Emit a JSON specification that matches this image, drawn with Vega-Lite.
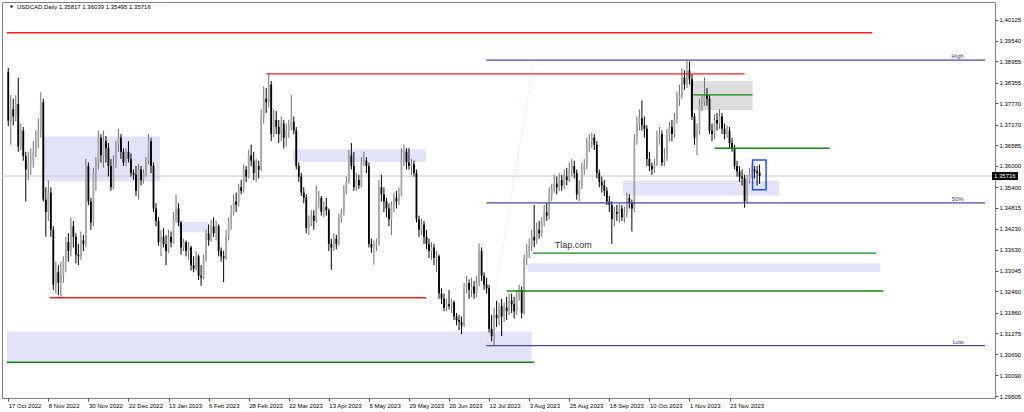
{
"$schema": "https://vega.github.io/schema/vega-lite/v6.json",
"width": 993, "height": 396,
"autosize": {"type": "none"},
"padding": {"left": 2, "top": 2, "right": 29, "bottom": 14},
"background": "white",
"config": {"view": {"stroke": "#808080", "strokeWidth": 1}, "font": "Liberation Sans",
 "axis": {"grid": false, "domain": false, "labelFontSize": 6, "labelColor": "#000", "tickColor": "#555", "tickSize": 3, "labelPadding": 1, "labelOverlap": false, "labelFlush": false}},
"datasets": {
"candles": [
{"i":0,"open":1.3866,"high":1.3877,"low":1.3712,"close":1.3728},
{"i":1,"open":1.3728,"high":1.3800,"low":1.3660,"close":1.3760},
{"i":2,"open":1.3760,"high":1.3790,"low":1.3715,"close":1.3740},
{"i":3,"open":1.3740,"high":1.3800,"low":1.3725,"close":1.3775},
{"i":4,"open":1.3775,"high":1.3849,"low":1.3640,"close":1.3655},
{"i":5,"open":1.3655,"high":1.3720,"low":1.3645,"close":1.3700},
{"i":6,"open":1.3700,"high":1.3710,"low":1.3615,"close":1.3628},
{"i":7,"open":1.3628,"high":1.3640,"low":1.3500,"close":1.3590},
{"i":8,"open":1.3590,"high":1.3640,"low":1.3560,"close":1.3610},
{"i":9,"open":1.3610,"high":1.3650,"low":1.3575,"close":1.3615},
{"i":10,"open":1.3615,"high":1.3670,"low":1.3595,"close":1.3640},
{"i":11,"open":1.3640,"high":1.3700,"low":1.3625,"close":1.3665},
{"i":12,"open":1.3665,"high":1.3735,"low":1.3650,"close":1.3700},
{"i":13,"open":1.3700,"high":1.3808,"low":1.3680,"close":1.3780},
{"i":14,"open":1.3780,"high":1.3790,"low":1.3500,"close":1.3505},
{"i":15,"open":1.3505,"high":1.3540,"low":1.3400,"close":1.3470},
{"i":16,"open":1.3470,"high":1.3560,"low":1.3445,"close":1.3525},
{"i":17,"open":1.3525,"high":1.3540,"low":1.3400,"close":1.3420},
{"i":18,"open":1.3420,"high":1.3430,"low":1.3250,"close":1.3265},
{"i":19,"open":1.3265,"high":1.3330,"low":1.3240,"close":1.3300},
{"i":20,"open":1.3300,"high":1.3320,"low":1.3235,"close":1.3270},
{"i":21,"open":1.3270,"high":1.3330,"low":1.3226,"close":1.3290},
{"i":22,"open":1.3290,"high":1.3345,"low":1.3270,"close":1.3330},
{"i":23,"open":1.3330,"high":1.3400,"low":1.3300,"close":1.3385},
{"i":24,"open":1.3385,"high":1.3410,"low":1.3330,"close":1.3360},
{"i":25,"open":1.3360,"high":1.3455,"low":1.3345,"close":1.3430},
{"i":26,"open":1.3430,"high":1.3445,"low":1.3370,"close":1.3400},
{"i":27,"open":1.3400,"high":1.3410,"low":1.3325,"close":1.3350},
{"i":28,"open":1.3350,"high":1.3380,"low":1.3320,"close":1.3345},
{"i":29,"open":1.3345,"high":1.3415,"low":1.3335,"close":1.3390},
{"i":30,"open":1.3390,"high":1.3405,"low":1.3360,"close":1.3380},
{"i":31,"open":1.3380,"high":1.3620,"low":1.3370,"close":1.3600},
{"i":32,"open":1.3600,"high":1.3610,"low":1.3490,"close":1.3500},
{"i":33,"open":1.3500,"high":1.3510,"low":1.3420,"close":1.3440},
{"i":34,"open":1.3440,"high":1.3595,"low":1.3430,"close":1.3580},
{"i":35,"open":1.3580,"high":1.3625,"low":1.3530,"close":1.3610},
{"i":36,"open":1.3610,"high":1.3700,"low":1.3590,"close":1.3680},
{"i":37,"open":1.3680,"high":1.3690,"low":1.3610,"close":1.3630},
{"i":38,"open":1.3630,"high":1.3700,"low":1.3595,"close":1.3670},
{"i":39,"open":1.3670,"high":1.3685,"low":1.3610,"close":1.3650},
{"i":40,"open":1.3650,"high":1.3665,"low":1.3570,"close":1.3600},
{"i":41,"open":1.3600,"high":1.3620,"low":1.3530,"close":1.3540},
{"i":42,"open":1.3540,"high":1.3630,"low":1.3535,"close":1.3600},
{"i":43,"open":1.3600,"high":1.3670,"low":1.3595,"close":1.3660},
{"i":44,"open":1.3660,"high":1.3705,"low":1.3640,"close":1.3680},
{"i":45,"open":1.3680,"high":1.3690,"low":1.3620,"close":1.3640},
{"i":46,"open":1.3640,"high":1.3650,"low":1.3600,"close":1.3610},
{"i":47,"open":1.3610,"high":1.3650,"low":1.3600,"close":1.3640},
{"i":48,"open":1.3640,"high":1.3670,"low":1.3610,"close":1.3620},
{"i":49,"open":1.3620,"high":1.3635,"low":1.3570,"close":1.3580},
{"i":50,"open":1.3580,"high":1.3590,"low":1.3560,"close":1.3575},
{"i":51,"open":1.3575,"high":1.3600,"low":1.3515,"close":1.3530},
{"i":52,"open":1.3530,"high":1.3605,"low":1.3505,"close":1.3590},
{"i":53,"open":1.3590,"high":1.3600,"low":1.3545,"close":1.3560},
{"i":54,"open":1.3560,"high":1.3590,"low":1.3550,"close":1.3580},
{"i":55,"open":1.3580,"high":1.3625,"low":1.3570,"close":1.3615},
{"i":56,"open":1.3615,"high":1.3690,"low":1.3605,"close":1.3670},
{"i":57,"open":1.3670,"high":1.3680,"low":1.3580,"close":1.3600},
{"i":58,"open":1.3600,"high":1.3610,"low":1.3470,"close":1.3480},
{"i":59,"open":1.3480,"high":1.3495,"low":1.3430,"close":1.3445},
{"i":60,"open":1.3445,"high":1.3455,"low":1.3375,"close":1.3385},
{"i":61,"open":1.3385,"high":1.3420,"low":1.3345,"close":1.3400},
{"i":62,"open":1.3400,"high":1.3425,"low":1.3370,"close":1.3380},
{"i":63,"open":1.3380,"high":1.3405,"low":1.3320,"close":1.3360},
{"i":64,"open":1.3360,"high":1.3420,"low":1.3355,"close":1.3400},
{"i":65,"open":1.3400,"high":1.3415,"low":1.3370,"close":1.3385},
{"i":66,"open":1.3385,"high":1.3470,"low":1.3380,"close":1.3450},
{"i":67,"open":1.3450,"high":1.3520,"low":1.3440,"close":1.3480},
{"i":68,"open":1.3480,"high":1.3495,"low":1.3430,"close":1.3440},
{"i":69,"open":1.3440,"high":1.3445,"low":1.3350,"close":1.3370},
{"i":70,"open":1.3370,"high":1.3395,"low":1.3360,"close":1.3385},
{"i":71,"open":1.3385,"high":1.3390,"low":1.3345,"close":1.3360},
{"i":72,"open":1.3360,"high":1.3385,"low":1.3335,"close":1.3370},
{"i":73,"open":1.3370,"high":1.3375,"low":1.3305,"close":1.3320},
{"i":74,"open":1.3320,"high":1.3345,"low":1.3300,"close":1.3310},
{"i":75,"open":1.3310,"high":1.3360,"low":1.3305,"close":1.3345},
{"i":76,"open":1.3345,"high":1.3350,"low":1.3278,"close":1.3290},
{"i":77,"open":1.3290,"high":1.3320,"low":1.3262,"close":1.3285},
{"i":78,"open":1.3285,"high":1.3350,"low":1.3280,"close":1.3340},
{"i":79,"open":1.3340,"high":1.3420,"low":1.3330,"close":1.3410},
{"i":80,"open":1.3410,"high":1.3435,"low":1.3375,"close":1.3390},
{"i":81,"open":1.3390,"high":1.3448,"low":1.3385,"close":1.3430},
{"i":82,"open":1.3430,"high":1.3455,"low":1.3400,"close":1.3410},
{"i":83,"open":1.3410,"high":1.3445,"low":1.3390,"close":1.3430},
{"i":84,"open":1.3430,"high":1.3435,"low":1.3345,"close":1.3360},
{"i":85,"open":1.3360,"high":1.3370,"low":1.3330,"close":1.3345},
{"i":86,"open":1.3345,"high":1.3360,"low":1.3272,"close":1.3340},
{"i":87,"open":1.3340,"high":1.3420,"low":1.3335,"close":1.3400},
{"i":88,"open":1.3400,"high":1.3455,"low":1.3390,"close":1.3440},
{"i":89,"open":1.3440,"high":1.3490,"low":1.3420,"close":1.3470},
{"i":90,"open":1.3470,"high":1.3520,"low":1.3460,"close":1.3500},
{"i":91,"open":1.3500,"high":1.3525,"low":1.3470,"close":1.3490},
{"i":92,"open":1.3490,"high":1.3550,"low":1.3485,"close":1.3540},
{"i":93,"open":1.3540,"high":1.3560,"low":1.3520,"close":1.3530},
{"i":94,"open":1.3530,"high":1.3605,"low":1.3525,"close":1.3590},
{"i":95,"open":1.3590,"high":1.3600,"low":1.3555,"close":1.3570},
{"i":96,"open":1.3570,"high":1.3645,"low":1.3565,"close":1.3630},
{"i":97,"open":1.3630,"high":1.3660,"low":1.3600,"close":1.3615},
{"i":98,"open":1.3615,"high":1.3640,"low":1.3560,"close":1.3580},
{"i":99,"open":1.3580,"high":1.3620,"low":1.3555,"close":1.3600},
{"i":100,"open":1.3600,"high":1.3615,"low":1.3565,"close":1.3590},
{"i":101,"open":1.3590,"high":1.3760,"low":1.3585,"close":1.3740},
{"i":102,"open":1.3740,"high":1.3825,"low":1.3720,"close":1.3790},
{"i":103,"open":1.3790,"high":1.3820,"low":1.3750,"close":1.3780},
{"i":104,"open":1.3780,"high":1.3862,"low":1.3765,"close":1.3830},
{"i":105,"open":1.3830,"high":1.3840,"low":1.3670,"close":1.3690},
{"i":106,"open":1.3690,"high":1.3760,"low":1.3680,"close":1.3730},
{"i":107,"open":1.3730,"high":1.3755,"low":1.3690,"close":1.3710},
{"i":108,"open":1.3710,"high":1.3730,"low":1.3665,"close":1.3690},
{"i":109,"open":1.3690,"high":1.3740,"low":1.3670,"close":1.3720},
{"i":110,"open":1.3720,"high":1.3730,"low":1.3650,"close":1.3680},
{"i":111,"open":1.3680,"high":1.3720,"low":1.3655,"close":1.3700},
{"i":112,"open":1.3700,"high":1.3730,"low":1.3680,"close":1.3715},
{"i":113,"open":1.3715,"high":1.3800,"low":1.3700,"close":1.3725},
{"i":114,"open":1.3725,"high":1.3740,"low":1.3690,"close":1.3700},
{"i":115,"open":1.3700,"high":1.3710,"low":1.3590,"close":1.3600},
{"i":116,"open":1.3600,"high":1.3610,"low":1.3555,"close":1.3570},
{"i":117,"open":1.3570,"high":1.3580,"low":1.3515,"close":1.3525},
{"i":118,"open":1.3525,"high":1.3540,"low":1.3495,"close":1.3510},
{"i":119,"open":1.3510,"high":1.3520,"low":1.3410,"close":1.3425},
{"i":120,"open":1.3425,"high":1.3460,"low":1.3405,"close":1.3440},
{"i":121,"open":1.3440,"high":1.3475,"low":1.3430,"close":1.3460},
{"i":122,"open":1.3460,"high":1.3475,"low":1.3420,"close":1.3445},
{"i":123,"open":1.3445,"high":1.3545,"low":1.3440,"close":1.3500},
{"i":124,"open":1.3500,"high":1.3530,"low":1.3480,"close":1.3510},
{"i":125,"open":1.3510,"high":1.3515,"low":1.3460,"close":1.3470},
{"i":126,"open":1.3470,"high":1.3500,"low":1.3455,"close":1.3485},
{"i":127,"open":1.3485,"high":1.3510,"low":1.3460,"close":1.3475},
{"i":128,"open":1.3475,"high":1.3480,"low":1.3360,"close":1.3380},
{"i":129,"open":1.3380,"high":1.3395,"low":1.3307,"close":1.3370},
{"i":130,"open":1.3370,"high":1.3410,"low":1.3360,"close":1.3395},
{"i":131,"open":1.3395,"high":1.3405,"low":1.3365,"close":1.3380},
{"i":132,"open":1.3380,"high":1.3465,"low":1.3375,"close":1.3450},
{"i":133,"open":1.3450,"high":1.3480,"low":1.3440,"close":1.3470},
{"i":134,"open":1.3470,"high":1.3545,"low":1.3460,"close":1.3530},
{"i":135,"open":1.3530,"high":1.3570,"low":1.3520,"close":1.3555},
{"i":136,"open":1.3555,"high":1.3645,"low":1.3550,"close":1.3630},
{"i":137,"open":1.3630,"high":1.3665,"low":1.3590,"close":1.3600},
{"i":138,"open":1.3600,"high":1.3640,"low":1.3530,"close":1.3540},
{"i":139,"open":1.3540,"high":1.3580,"low":1.3530,"close":1.3560},
{"i":140,"open":1.3560,"high":1.3575,"low":1.3535,"close":1.3545},
{"i":141,"open":1.3545,"high":1.3625,"low":1.3540,"close":1.3610},
{"i":142,"open":1.3610,"high":1.3640,"low":1.3600,"close":1.3615},
{"i":143,"open":1.3615,"high":1.3625,"low":1.3580,"close":1.3600},
{"i":144,"open":1.3600,"high":1.3610,"low":1.3370,"close":1.3380},
{"i":145,"open":1.3380,"high":1.3395,"low":1.3355,"close":1.3370},
{"i":146,"open":1.3370,"high":1.3390,"low":1.3321,"close":1.3375},
{"i":147,"open":1.3375,"high":1.3395,"low":1.3360,"close":1.3380},
{"i":148,"open":1.3380,"high":1.3560,"low":1.3375,"close":1.3540},
{"i":149,"open":1.3540,"high":1.3575,"low":1.3500,"close":1.3520},
{"i":150,"open":1.3520,"high":1.3540,"low":1.3470,"close":1.3500},
{"i":151,"open":1.3500,"high":1.3510,"low":1.3455,"close":1.3480},
{"i":152,"open":1.3480,"high":1.3495,"low":1.3430,"close":1.3450},
{"i":153,"open":1.3450,"high":1.3500,"low":1.3405,"close":1.3490},
{"i":154,"open":1.3490,"high":1.3525,"low":1.3470,"close":1.3510},
{"i":155,"open":1.3510,"high":1.3530,"low":1.3480,"close":1.3500},
{"i":156,"open":1.3500,"high":1.3540,"low":1.3490,"close":1.3520},
{"i":157,"open":1.3520,"high":1.3650,"low":1.3515,"close":1.3620},
{"i":158,"open":1.3620,"high":1.3660,"low":1.3600,"close":1.3640},
{"i":159,"open":1.3640,"high":1.3650,"low":1.3590,"close":1.3610},
{"i":160,"open":1.3610,"high":1.3650,"low":1.3590,"close":1.3600},
{"i":161,"open":1.3600,"high":1.3620,"low":1.3575,"close":1.3605},
{"i":162,"open":1.3605,"high":1.3615,"low":1.3570,"close":1.3580},
{"i":163,"open":1.3580,"high":1.3590,"low":1.3440,"close":1.3450},
{"i":164,"open":1.3450,"high":1.3460,"low":1.3400,"close":1.3420},
{"i":165,"open":1.3420,"high":1.3450,"low":1.3405,"close":1.3435},
{"i":166,"open":1.3435,"high":1.3445,"low":1.3380,"close":1.3400},
{"i":167,"open":1.3400,"high":1.3420,"low":1.3365,"close":1.3380},
{"i":168,"open":1.3380,"high":1.3395,"low":1.3340,"close":1.3360},
{"i":169,"open":1.3360,"high":1.3385,"low":1.3335,"close":1.3370},
{"i":170,"open":1.3370,"high":1.3380,"low":1.3320,"close":1.3340},
{"i":171,"open":1.3340,"high":1.3360,"low":1.3300,"close":1.3345},
{"i":172,"open":1.3345,"high":1.3350,"low":1.3225,"close":1.3240},
{"i":173,"open":1.3240,"high":1.3255,"low":1.3210,"close":1.3225},
{"i":174,"open":1.3225,"high":1.3240,"low":1.3190,"close":1.3200},
{"i":175,"open":1.3200,"high":1.3225,"low":1.3190,"close":1.3210},
{"i":176,"open":1.3210,"high":1.3250,"low":1.3195,"close":1.3205},
{"i":177,"open":1.3205,"high":1.3225,"low":1.3185,"close":1.3215},
{"i":178,"open":1.3215,"high":1.3220,"low":1.3165,"close":1.3175},
{"i":179,"open":1.3175,"high":1.3185,"low":1.3150,"close":1.3165},
{"i":180,"open":1.3165,"high":1.3180,"low":1.3137,"close":1.3160},
{"i":181,"open":1.3160,"high":1.3175,"low":1.3125,"close":1.3150},
{"i":182,"open":1.3150,"high":1.3270,"low":1.3145,"close":1.3255},
{"i":183,"open":1.3255,"high":1.3290,"low":1.3240,"close":1.3270},
{"i":184,"open":1.3270,"high":1.3280,"low":1.3225,"close":1.3250},
{"i":185,"open":1.3250,"high":1.3285,"low":1.3230,"close":1.3260},
{"i":186,"open":1.3260,"high":1.3275,"low":1.3225,"close":1.3240},
{"i":187,"open":1.3240,"high":1.3290,"low":1.3230,"close":1.3270},
{"i":188,"open":1.3270,"high":1.3382,"low":1.3260,"close":1.3360},
{"i":189,"open":1.3360,"high":1.3370,"low":1.3275,"close":1.3290},
{"i":190,"open":1.3290,"high":1.3300,"low":1.3250,"close":1.3265},
{"i":191,"open":1.3265,"high":1.3285,"low":1.3240,"close":1.3255},
{"i":192,"open":1.3255,"high":1.3265,"low":1.3130,"close":1.3140},
{"i":193,"open":1.3140,"high":1.3180,"low":1.3105,"close":1.3120},
{"i":194,"open":1.3120,"high":1.3200,"low":1.3093,"close":1.3180},
{"i":195,"open":1.3180,"high":1.3220,"low":1.3145,"close":1.3170},
{"i":196,"open":1.3170,"high":1.3215,"low":1.3150,"close":1.3205},
{"i":197,"open":1.3205,"high":1.3225,"low":1.3120,"close":1.3175},
{"i":198,"open":1.3175,"high":1.3215,"low":1.3160,"close":1.3200},
{"i":199,"open":1.3200,"high":1.3230,"low":1.3165,"close":1.3190},
{"i":200,"open":1.3190,"high":1.3240,"low":1.3180,"close":1.3220},
{"i":201,"open":1.3220,"high":1.3240,"low":1.3185,"close":1.3210},
{"i":202,"open":1.3210,"high":1.3230,"low":1.3170,"close":1.3190},
{"i":203,"open":1.3190,"high":1.3250,"low":1.3180,"close":1.3230},
{"i":204,"open":1.3230,"high":1.3265,"low":1.3220,"close":1.3250},
{"i":205,"open":1.3250,"high":1.3260,"low":1.3170,"close":1.3185},
{"i":206,"open":1.3185,"high":1.3350,"low":1.3180,"close":1.3340},
{"i":207,"open":1.3340,"high":1.3380,"low":1.3320,"close":1.3360},
{"i":208,"open":1.3360,"high":1.3395,"low":1.3340,"close":1.3375},
{"i":209,"open":1.3375,"high":1.3420,"low":1.3360,"close":1.3400},
{"i":210,"open":1.3400,"high":1.3490,"low":1.3370,"close":1.3390},
{"i":211,"open":1.3390,"high":1.3440,"low":1.3380,"close":1.3420},
{"i":212,"open":1.3420,"high":1.3445,"low":1.3395,"close":1.3410},
{"i":213,"open":1.3410,"high":1.3455,"low":1.3400,"close":1.3440},
{"i":214,"open":1.3440,"high":1.3490,"low":1.3430,"close":1.3470},
{"i":215,"open":1.3470,"high":1.3495,"low":1.3445,"close":1.3460},
{"i":216,"open":1.3460,"high":1.3540,"low":1.3450,"close":1.3520},
{"i":217,"open":1.3520,"high":1.3550,"low":1.3500,"close":1.3535},
{"i":218,"open":1.3535,"high":1.3575,"low":1.3525,"close":1.3550},
{"i":219,"open":1.3550,"high":1.3570,"low":1.3520,"close":1.3540},
{"i":220,"open":1.3540,"high":1.3580,"low":1.3530,"close":1.3560},
{"i":221,"open":1.3560,"high":1.3575,"low":1.3530,"close":1.3545},
{"i":222,"open":1.3545,"high":1.3590,"low":1.3535,"close":1.3570},
{"i":223,"open":1.3570,"high":1.3595,"low":1.3545,"close":1.3560},
{"i":224,"open":1.3560,"high":1.3610,"low":1.3555,"close":1.3590},
{"i":225,"open":1.3590,"high":1.3620,"low":1.3570,"close":1.3600},
{"i":226,"open":1.3600,"high":1.3615,"low":1.3565,"close":1.3580},
{"i":227,"open":1.3580,"high":1.3590,"low":1.3505,"close":1.3520},
{"i":228,"open":1.3520,"high":1.3560,"low":1.3500,"close":1.3540},
{"i":229,"open":1.3540,"high":1.3610,"low":1.3535,"close":1.3590},
{"i":230,"open":1.3590,"high":1.3620,"low":1.3575,"close":1.3600},
{"i":231,"open":1.3600,"high":1.3680,"low":1.3590,"close":1.3660},
{"i":232,"open":1.3660,"high":1.3690,"low":1.3640,"close":1.3670},
{"i":233,"open":1.3670,"high":1.3695,"low":1.3650,"close":1.3680},
{"i":234,"open":1.3680,"high":1.3690,"low":1.3645,"close":1.3660},
{"i":235,"open":1.3660,"high":1.3670,"low":1.3565,"close":1.3580},
{"i":236,"open":1.3580,"high":1.3590,"low":1.3540,"close":1.3555},
{"i":237,"open":1.3555,"high":1.3570,"low":1.3525,"close":1.3545},
{"i":238,"open":1.3545,"high":1.3560,"low":1.3515,"close":1.3530},
{"i":239,"open":1.3530,"high":1.3540,"low":1.3490,"close":1.3500},
{"i":240,"open":1.3500,"high":1.3515,"low":1.3470,"close":1.3490},
{"i":241,"open":1.3490,"high":1.3500,"low":1.3380,"close":1.3450},
{"i":242,"open":1.3450,"high":1.3485,"low":1.3430,"close":1.3470},
{"i":243,"open":1.3470,"high":1.3490,"low":1.3445,"close":1.3465},
{"i":244,"open":1.3465,"high":1.3495,"low":1.3440,"close":1.3480},
{"i":245,"open":1.3480,"high":1.3490,"low":1.3445,"close":1.3455},
{"i":246,"open":1.3455,"high":1.3485,"low":1.3440,"close":1.3465},
{"i":247,"open":1.3465,"high":1.3525,"low":1.3455,"close":1.3510},
{"i":248,"open":1.3510,"high":1.3520,"low":1.3480,"close":1.3495},
{"i":249,"open":1.3495,"high":1.3505,"low":1.3415,"close":1.3480},
{"i":250,"open":1.3480,"high":1.3690,"low":1.3470,"close":1.3670},
{"i":251,"open":1.3670,"high":1.3740,"low":1.3660,"close":1.3720},
{"i":252,"open":1.3720,"high":1.3760,"low":1.3700,"close":1.3735},
{"i":253,"open":1.3735,"high":1.3785,"low":1.3700,"close":1.3715},
{"i":254,"open":1.3715,"high":1.3740,"low":1.3680,"close":1.3705},
{"i":255,"open":1.3705,"high":1.3715,"low":1.3600,"close":1.3620},
{"i":256,"open":1.3620,"high":1.3640,"low":1.3585,"close":1.3600},
{"i":257,"open":1.3600,"high":1.3610,"low":1.3575,"close":1.3590},
{"i":258,"open":1.3590,"high":1.3620,"low":1.3580,"close":1.3605},
{"i":259,"open":1.3605,"high":1.3700,"low":1.3600,"close":1.3680},
{"i":260,"open":1.3680,"high":1.3710,"low":1.3660,"close":1.3690},
{"i":261,"open":1.3690,"high":1.3700,"low":1.3600,"close":1.3610},
{"i":262,"open":1.3610,"high":1.3650,"low":1.3600,"close":1.3620},
{"i":263,"open":1.3620,"high":1.3705,"low":1.3615,"close":1.3690},
{"i":264,"open":1.3690,"high":1.3725,"low":1.3670,"close":1.3710},
{"i":265,"open":1.3710,"high":1.3730,"low":1.3670,"close":1.3690},
{"i":266,"open":1.3690,"high":1.3750,"low":1.3680,"close":1.3730},
{"i":267,"open":1.3730,"high":1.3810,"low":1.3720,"close":1.3790},
{"i":268,"open":1.3790,"high":1.3830,"low":1.3770,"close":1.3800},
{"i":269,"open":1.3800,"high":1.3875,"low":1.3790,"close":1.3850},
{"i":270,"open":1.3850,"high":1.3870,"low":1.3815,"close":1.3830},
{"i":271,"open":1.3830,"high":1.3899,"low":1.3820,"close":1.3870},
{"i":272,"open":1.3870,"high":1.3895,"low":1.3830,"close":1.3845},
{"i":273,"open":1.3845,"high":1.3860,"low":1.3730,"close":1.3740},
{"i":274,"open":1.3740,"high":1.3750,"low":1.3660,"close":1.3680},
{"i":275,"open":1.3680,"high":1.3720,"low":1.3631,"close":1.3700},
{"i":276,"open":1.3700,"high":1.3790,"low":1.3690,"close":1.3770},
{"i":277,"open":1.3770,"high":1.3800,"low":1.3755,"close":1.3780},
{"i":278,"open":1.3780,"high":1.3850,"low":1.3770,"close":1.3800},
{"i":279,"open":1.3800,"high":1.3820,"low":1.3770,"close":1.3790},
{"i":280,"open":1.3790,"high":1.3800,"low":1.3690,"close":1.3700},
{"i":281,"open":1.3700,"high":1.3720,"low":1.3670,"close":1.3690},
{"i":282,"open":1.3690,"high":1.3745,"low":1.3675,"close":1.3730},
{"i":283,"open":1.3730,"high":1.3750,"low":1.3700,"close":1.3720},
{"i":284,"open":1.3720,"high":1.3760,"low":1.3705,"close":1.3740},
{"i":285,"open":1.3740,"high":1.3750,"low":1.3690,"close":1.3705},
{"i":286,"open":1.3705,"high":1.3720,"low":1.3675,"close":1.3690},
{"i":287,"open":1.3690,"high":1.3715,"low":1.3680,"close":1.3700},
{"i":288,"open":1.3700,"high":1.3710,"low":1.3650,"close":1.3665},
{"i":289,"open":1.3665,"high":1.3680,"low":1.3640,"close":1.3650},
{"i":290,"open":1.3650,"high":1.3660,"low":1.3590,"close":1.3600},
{"i":291,"open":1.3600,"high":1.3615,"low":1.3570,"close":1.3585},
{"i":292,"open":1.3585,"high":1.3600,"low":1.3555,"close":1.3570},
{"i":293,"open":1.3570,"high":1.3590,"low":1.3545,"close":1.3565},
{"i":294,"open":1.3565,"high":1.3575,"low":1.3482,"close":1.3500},
{"i":295,"open":1.3500,"high":1.3575,"low":1.3495,"close":1.3560},
{"i":296,"open":1.3560,"high":1.3595,"low":1.3550,"close":1.3580},
{"i":297,"open":1.3580,"high":1.3605,"low":1.3565,"close":1.3590},
{"i":298,"open":1.3590,"high":1.3600,"low":1.3565,"close":1.3585},
{"i":299,"open":1.3585,"high":1.3600,"low":1.3545,"close":1.3580},
{"i":300,"open":1.35817,"high":1.36039,"low":1.35495,"close":1.35716}
],
"levels": [
{"x1":-0.5,"x2":345,"y":1.3976,"kind":"red"},
{"x1":103,"x2":294,"y":1.3860,"kind":"red"},
{"x1":16.6,"x2":166.8,"y":1.3228,"kind":"red"},
{"x1":-0.5,"x2":209.9,"y":1.3046,"kind":"green"},
{"x1":209.5,"x2":346.6,"y":1.3354,"kind":"green"},
{"x1":199.1,"x2":349.4,"y":1.3247,"kind":"green"},
{"x1":282,"x2":328,"y":1.3650,"kind":"green"},
{"x1":273.5,"x2":297.2,"y":1.3801,"kind":"green"},
{"x1":190.9,"x2":390,"y":1.3899,"kind":"fib"},
{"x1":190.9,"x2":390,"y":1.3496,"kind":"fib"},
{"x1":190.9,"x2":390,"y":1.3093,"kind":"fib"}
],
"zones": [
{"x1":13.4,"x2":60.5,"y1":1.3683,"y2":1.3556,"kind":"zone"},
{"x1":113.7,"x2":166.8,"y1":1.3647,"y2":1.3612,"kind":"zone"},
{"x1":68,"x2":79.8,"y1":1.3442,"y2":1.3413,"kind":"zone"},
{"x1":-0.5,"x2":209,"y1":1.3133,"y2":1.3047,"kind":"zone"},
{"x1":207.4,"x2":348.2,"y1":1.3325,"y2":1.3301,"kind":"zone"},
{"x1":245.5,"x2":307.9,"y1":1.3558,"y2":1.3517,"kind":"zone"},
{"x1":272.2,"x2":297.2,"y1":1.3840,"y2":1.3758,"kind":"gray"}
]
},
"layer": [
{"data": {"name": "zones"}, "mark": {"type": "rect"},
 "encoding": {
  "x": {"field": "x1", "type": "quantitative", "scale": {"type": "linear", "domain": [-0.5, 392], "nice": false, "zero": false},
   "axis": {"orient": "bottom", "title": null, "values": [0,16,32,48,64,80,96,112,128,144,160,176,192,208,224,240,256,272,288], "tickCount": 40,
    "labelExpr": "timeFormat(datetime(2022, 9, 17 + 7*floor(datum.value/5) + datum.value%5), '%-d %b %Y')",
    "labelAlign": "left", "labelBaseline": "top", "labelDx": 1, "labelOverlap": false}},
  "x2": {"field": "x2"},
  "y": {"field": "y1", "type": "quantitative", "scale": {"type": "linear", "domain": [1.2945, 1.4063], "nice": false, "zero": false},
   "axis": {"orient": "right", "title": null,
    "values": [1.40125,1.3954,1.38955,1.38355,1.3777,1.3717,1.36585,1.36,1.354,1.34815,1.3423,1.3363,1.33045,1.3246,1.3186,1.31275,1.3069,1.3009,1.29505],
    "tickCount": 40, "format": ".5f", "labelOverlap": false, "labelBaseline": "middle"}},
  "y2": {"field": "y2"},
  "fill": {"field": "kind", "type": "nominal", "scale": {"domain": ["zone", "gray"], "range": ["#e2e2f8", "#dcdcdc"]}, "legend": null}
 }},
{"data": {"values": [{"p": 1.35716}]}, "mark": {"type": "rule", "color": "#c8c8c8", "strokeWidth": 1},
 "encoding": {"y": {"field": "p", "type": "quantitative"}}},
{"data": {"values": [{"x": 190.9, "y": 1.3093}, {"x": 209.9, "y": 1.3899}]},
 "mark": {"type": "line", "color": "#f2a8b8", "strokeDash": [1, 2], "strokeWidth": 1, "opacity": 0.6},
 "encoding": {"x": {"field": "x", "type": "quantitative"}, "y": {"field": "y", "type": "quantitative"}}},
{"data": {"name": "candles"}, "mark": {"type": "rule", "strokeWidth": 1},
 "encoding": {
  "x": {"field": "i", "type": "quantitative"},
  "y": {"field": "low", "type": "quantitative"},
  "y2": {"field": "high"},
  "color": {"condition": {"test": "datum.close >= datum.open", "value": "#6e6e6e"}, "value": "#000000"}
 }},
{"data": {"name": "candles"}, "mark": {"type": "bar", "width": 1.8},
 "encoding": {
  "x": {"field": "i", "type": "quantitative"},
  "y": {"field": "open", "type": "quantitative"},
  "y2": {"field": "close"},
  "color": {"condition": {"test": "datum.close >= datum.open", "value": "#a6a6a6"}, "value": "#000000"}
 }},
{"data": {"name": "levels"}, "mark": {"type": "rule"},
 "encoding": {
  "x": {"field": "x1", "type": "quantitative"},
  "x2": {"field": "x2"},
  "y": {"field": "y", "type": "quantitative"},
  "stroke": {"field": "kind", "type": "nominal", "scale": {"domain": ["red", "green", "fib"], "range": ["#ff1a1a", "#118811", "#4848a8"]}, "legend": null},
  "strokeWidth": {"field": "kind", "type": "nominal", "scale": {"domain": ["red", "green", "fib"], "range": [1.4, 1.3, 1]}, "legend": null}
 }},
{"data": {"values": [{"x1": 297.2, "x2": 302.6, "y1": 1.3617, "y2": 1.3533}]},
 "mark": {"type": "rect", "filled": false, "stroke": "#1f4fff", "strokeWidth": 1.5},
 "encoding": {"x": {"field": "x1", "type": "quantitative"}, "x2": {"field": "x2"}, "y": {"field": "y1", "type": "quantitative"}, "y2": {"field": "y2"}}},
{"data": {"values": [{"x": 381.5, "y": 1.3899, "t": "High"}, {"x": 381.5, "y": 1.3496, "t": "50%"}, {"x": 381.5, "y": 1.3093, "t": "Low"}]},
 "mark": {"type": "text", "align": "right", "baseline": "bottom", "dy": -1, "fontSize": 6, "color": "#3c3c9c"},
 "encoding": {"x": {"field": "x", "type": "quantitative"}, "y": {"field": "y", "type": "quantitative"}, "text": {"field": "t"}}},
{"data": {"values": [{"x": 218.2, "y": 1.3377, "t": "Tlap.com"}]},
 "mark": {"type": "text", "align": "left", "baseline": "middle", "fontSize": 9, "color": "#333333"},
 "encoding": {"x": {"field": "x", "type": "quantitative"}, "y": {"field": "y", "type": "quantitative"}, "text": {"field": "t"}}},
{"data": {"values": [{"x": -0.5, "y": 1.4063, "t": "USDCAD,Daily  1.35817 1.36039 1.35495 1.35716"}]},
 "mark": {"type": "text", "align": "left", "baseline": "middle", "dx": 10, "dy": 5, "fontSize": 6, "color": "#000"},
 "encoding": {"x": {"field": "x", "type": "quantitative"}, "y": {"field": "y", "type": "quantitative"}, "text": {"field": "t"}}},
{"data": {"values": [{"x": -0.5, "y": 1.4063, "t": "▼"}]},
 "mark": {"type": "text", "align": "left", "baseline": "middle", "dx": 3, "dy": 5, "fontSize": 4, "color": "#000", "font": "DejaVu Sans"},
 "encoding": {"x": {"field": "x", "type": "quantitative"}, "y": {"field": "y", "type": "quantitative"}, "text": {"field": "t"}}},
{"data": {"values": [{"x": 392, "y": 1.35716}]},
 "mark": {"type": "rect", "color": "#000", "xOffset": 2, "x2Offset": 28, "yOffset": -4, "y2Offset": 4},
 "encoding": {"x": {"field": "x", "type": "quantitative"}, "x2": {"field": "x"}, "y": {"field": "y", "type": "quantitative"}, "y2": {"field": "y"}}},
{"data": {"values": [{"x": 392, "y": 1.35716, "t": "1.35716"}]},
 "mark": {"type": "text", "align": "left", "baseline": "middle", "dx": 4, "fontSize": 6, "color": "#fff"},
 "encoding": {"x": {"field": "x", "type": "quantitative"}, "y": {"field": "y", "type": "quantitative"}, "text": {"field": "t"}}}
]
}
